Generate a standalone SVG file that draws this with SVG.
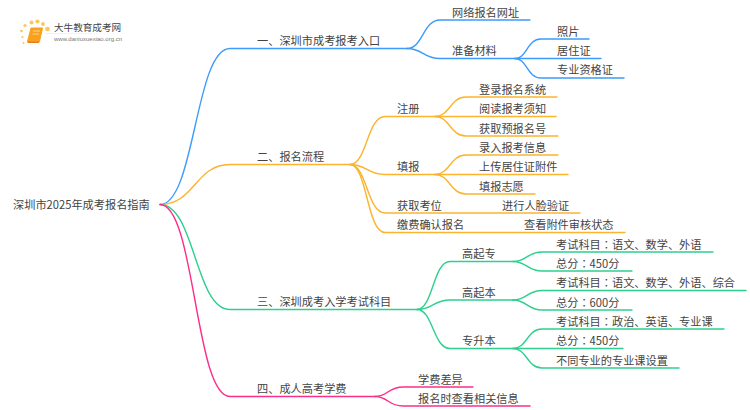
<svg xmlns="http://www.w3.org/2000/svg" width="750" height="410" viewBox="0 0 750 410">
<style>
text{font-family:"Noto Sans CJK SC","Noto Sans",sans-serif;font-size:11.2px;fill:#444}
.t{font-family:"Noto Sans CJK TC","Noto Sans",sans-serif}
.c{fill:none;stroke-width:1.4;stroke-linecap:round}
.b{stroke:#3d9bfb}.o{stroke:#fbb42c}.g{stroke:#2fd08f}.p{stroke:#fb2f8a}
</style>
<defs><linearGradient id="f"><stop offset="0" stop-color="#ddd"/><stop offset="1" stop-color="#ddd" stop-opacity="0"/></linearGradient></defs>
<rect width="750" height="410" fill="#fff"/>
<g id="logo">
<g fill="#fbc65a"><circle cx="25" cy="25.500" r="1.600"/><circle cx="31.500" cy="22.500" r="2"/><circle cx="37.500" cy="21.500" r="2.100"/><circle cx="43" cy="24" r="1.900"/><circle cx="47.500" cy="29" r="2.300"/><circle cx="21.500" cy="31" r="1.300"/><circle cx="22.500" cy="37" r="1.100"/><circle cx="23.500" cy="43" r="1"/></g>
<path d="M31 28H42.500L39.500 41.500H27.500Z" fill="#f7a11f" stroke="#f7a11f" stroke-linejoin="round"/><path d="M27 41.500H39.500L39 43H28Z" fill="#e8801a"/>
<path d="M33 31H40M32.500 34H39" stroke="#fde1a8" stroke-width=".8"/>
<text x="54" y="31" style="font-size:9.600px">大牛教育成考网</text>
<path d="M45 33.500H133V34H45Z" fill="url(#f)"/>
<text x="54" y="41" style="font-size:6px;fill:#777;font-family:'Liberation Sans',sans-serif">www.daniuxuexiao.org.cn</text>
</g>
<g id="connectors">
<g class="c b">
<path d="M160 204.500C195 204.500 195 48.500 230 48.500H407"/>
<path d="M407 48.500C423 48.500 423 20 440 20H530"/>
<path d="M407 48.500C423 48.500 423 58.500 440 58.500H515"/>
<path d="M515 58.500C527 58.500 527 39 541 39H589"/>
<path d="M515 58.500H601"/>
<path d="M515 58.500C527 58.500 527 78 541 78H624"/>
</g>
<g class="c o">
<path d="M160 204.500C195 204.500 195 164.500 230 164.500H350"/>
<path d="M350 164.500C367 164.500 367 116.500 385 116.500H435"/>
<path d="M350 164.500C367 164.500 367 174.500 385 174.500H435"/>
<path d="M350 164.500C367 164.500 367 213 385 213H580"/>
<path d="M350 164.500C367 164.500 367 232.500 385 232.500H625"/>
<path d="M435 116.500C450 116.500 450 97 466 97H557"/>
<path d="M435 116.500H556"/>
<path d="M435 116.500C450 116.500 450 136 466 136H558"/>
<path d="M435 174.500C450 174.500 450 155 466 155H558"/>
<path d="M435 174.500H568"/>
<path d="M435 174.500C450 174.500 450 194 466 194H535"/>
</g>
<g class="c g">
<path d="M160 204.500C195 204.500 195 309.500 230 309.500H417"/>
<path d="M417 309.500C433 309.500 433 261.500 450 261.500H513"/>
<path d="M417 309.500C433 309.500 433 300 450 300H513"/>
<path d="M417 309.500C433 309.500 433 348.500 450 348.500H513"/>
<path d="M513 261.500C527 261.500 527 252 542 252H713"/>
<path d="M513 261.500C527 261.500 527 271 542 271H632"/>
<path d="M513 300C527 300 527 290.500 542 290.500H746"/>
<path d="M513 300C527 300 527 310 542 310H632"/>
<path d="M513 348.500C527 348.500 527 329 542 329H724"/>
<path d="M513 348.500H623"/>
<path d="M513 348.500C527 348.500 527 368 542 368H679"/>
</g>
<g class="c p">
<path d="M160 204.500C195 204.500 195 396.500 230 396.500H375"/>
<path d="M375 396.500C388 396.500 388 387 403 387H473"/>
<path d="M375 396.500C388 396.500 388 406 403 406H530"/>
</g>
</g>
<g id="root"><text x="13" y="209">深圳市2025年成考报名指南</text></g>
<g id="n1"><text x="257" y="45">一、深圳市成考报考入口</text></g>
<g id="n1-1"><text x="452" y="16.500">网络报名网址</text></g>
<g id="n1-2"><text x="452" y="55">准备材料</text></g>
<g id="n1-2-1"><text x="557" y="36">照片</text></g>
<g id="n1-2-2"><text x="557" y="55">居住证</text></g>
<g id="n1-2-3"><text x="557" y="74">专业资格证</text></g>
<g id="n2"><text x="257" y="161">二、报名流程</text></g>
<g id="n2-1"><text x="397" y="113">注册</text></g>
<g id="n2-1-1"><text x="479" y="93.500">登录报名系统</text></g>
<g id="n2-1-2"><text x="479" y="113">阅读报考须知</text></g>
<g id="n2-1-3"><text x="479" y="132.500">获取预报名号</text></g>
<g id="n2-2"><text x="397" y="171">填报</text></g>
<g id="n2-2-1"><text x="479" y="151.500">录入报考信息</text></g>
<g id="n2-2-2"><text x="479" y="171">上传居住证附件</text></g>
<g id="n2-2-3"><text x="479" y="190.500">填报志愿</text></g>
<g id="n2-3"><text x="397" y="209.500">获取考位</text></g>
<g id="n2-3-1"><text x="502" y="209.500">进行人脸验证</text></g>
<g id="n2-4"><text x="397" y="229">缴费确认报名</text></g>
<g id="n2-4-1"><text x="524" y="229">查看附件审核状态</text></g>
<g id="n3"><text x="257" y="306">三、深圳成考入学考试科目</text></g>
<g id="n3-1"><text x="462" y="258">高起专</text></g>
<g id="n3-1-1"><text x="556" y="248.500">考试科目<tspan class="t">：</tspan>语文、数学、外语</text></g>
<g id="n3-1-2"><text x="556" y="267.500">总分<tspan class="t">：</tspan>450分</text></g>
<g id="n3-2"><text x="462" y="296.500">高起本</text></g>
<g id="n3-2-1"><text x="556" y="287">考试科目<tspan class="t">：</tspan>语文、数学、外语、综合</text></g>
<g id="n3-2-2"><text x="556" y="306.500">总分<tspan class="t">：</tspan>600分</text></g>
<g id="n3-3"><text x="462" y="345">专升本</text></g>
<g id="n3-3-1"><text x="556" y="325.500">考试科目<tspan class="t">：</tspan>政治、英语、专业课</text></g>
<g id="n3-3-2"><text x="556" y="345">总分<tspan class="t">：</tspan>450分</text></g>
<g id="n3-3-3"><text x="556" y="364.500">不同专业的专业课设置</text></g>
<g id="n4"><text x="257" y="393">四、成人高考学费</text></g>
<g id="n4-1"><text x="418" y="384">学费差异</text></g>
<g id="n4-2"><text x="418" y="403">报名时查看相关信息</text></g>
</svg>
